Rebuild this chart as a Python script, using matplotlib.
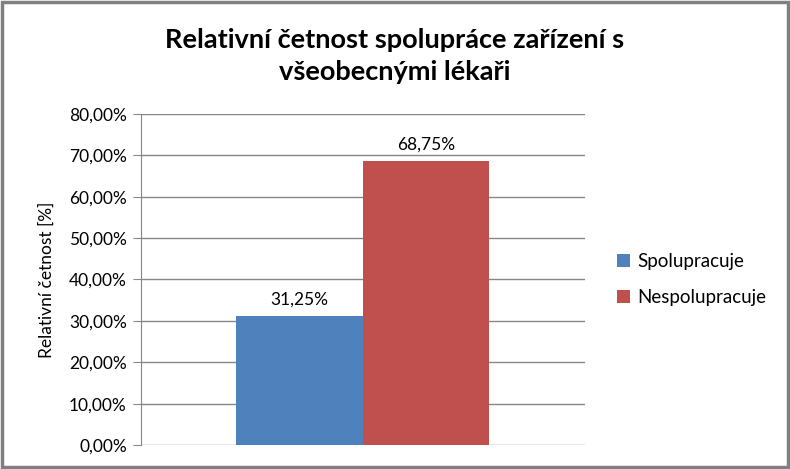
import matplotlib.pyplot as plt
from matplotlib.patches import Rectangle
from matplotlib.ticker import FuncFormatter

# ---- Data ----------------------------------------------------------------
series = ["Spolupracuje", "Nespolupracuje"]
values = [31.25, 68.75]          # %
colors = ["#4F81BD", "#C0504D"]
title = "Relativní četnost spolupráce zařízení s\nvšeobecnými lékaři"
ylabel = "Relativní četnost [%]"

FONT = ["Lato", "DejaVu Sans"]
plt.rcParams["font.family"] = FONT


def pct(v, _pos=None):
    return f"{v:.2f}%".replace(".", ",")


fig = plt.figure(figsize=(7.9, 4.69), dpi=100)
ax = fig.add_axes([140.7 / 790, 24 / 469, (585 - 140.7) / 790, (445 - 114) / 469])

width = 0.285
offsets = [-width / 2, width / 2]
for name, val, col, off in zip(series, values, colors, offsets):
    ax.bar(off, val, width=width, color=col, label=name, zorder=2)
    ax.text(off, val + 2.0, pct(val), ha="center", va="bottom", fontsize=12.5)

ax.set_xlim(-0.5, 0.5)
ax.set_ylim(0, 80)
ax.set_yticks(range(0, 81, 10))
ax.yaxis.set_major_formatter(FuncFormatter(pct))
ax.set_xticks([])
ax.grid(axis="y", color="#868686", linewidth=1, zorder=0)
for s in ["top", "right", "bottom"]:
    ax.spines[s].set_visible(False)
ax.spines["left"].set_color("#868686")
ax.tick_params(axis="y", length=6, color="#868686", labelsize=12.5, pad=4)
ax.set_ylabel(ylabel, fontsize=12.5, labelpad=10)

fig.suptitle(title, fontsize=19.5, fontweight="bold", y=0.94, linespacing=1.4)

ax.legend(loc="center left", bbox_to_anchor=(1.035, 0.5), frameon=False,
          fontsize=13.5, handlelength=0.65, handleheight=0.65, handletextpad=0.4,
          labelspacing=1.0)

# outer chart border
fig.patches.append(Rectangle((0.002, 0.004), 0.995, 0.992, transform=fig.transFigure,
                             fill=False, edgecolor="#808080", linewidth=2.5))

fig.savefig("out.png", dpi=100)
